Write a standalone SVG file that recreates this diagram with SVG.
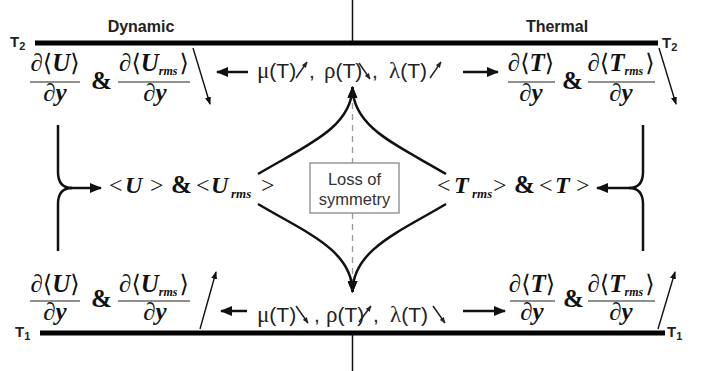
<svg xmlns="http://www.w3.org/2000/svg" width="710" height="371" viewBox="0 0 710 371">
<style>
.wall{stroke:#000;stroke-width:5;fill:none}
.thin{stroke:#111;stroke-width:1.5;fill:none}
.bar{stroke:#222;stroke-width:1.2}
.arr{stroke:#111;stroke-width:2.5;fill:none}
.sl{stroke:#111;stroke-width:1.4;fill:none}
.mini{stroke:#222;stroke-width:1.5;fill:none}
.hd{font-family:"Liberation Sans",Arial,sans-serif;font-weight:bold;font-size:16px;fill:#222}
.tl{font-family:"Liberation Sans",Arial,sans-serif;font-weight:bold;font-size:15px;fill:#222}
.tls{font-size:11px}
.f{font-family:"Liberation Serif","Times New Roman",serif;font-weight:bold;font-style:italic;font-size:25px;fill:#111}
.ab{font-family:"DejaVu Serif","DejaVu Sans",serif;font-weight:normal;font-style:normal;font-size:24px}
.sub{font-size:12px}
.amp{font-family:"Liberation Serif",serif;font-weight:bold;font-size:25px;fill:#111}
.p{font-family:"Liberation Sans",Arial,sans-serif;font-size:21px;fill:#222}
.g{font-family:"Liberation Serif",serif;font-size:23px}
.m{font-family:"Liberation Serif",serif;font-size:24px;fill:#111}
.mb{font-weight:bold;font-style:italic}
.rs{font-family:"Liberation Serif",serif;font-weight:bold;font-style:italic;font-size:13px;fill:#111}
.box{fill:#fff;stroke:#888;stroke-width:1.3}
.bt{font-family:"Liberation Sans",Arial,sans-serif;font-size:16.5px;fill:#333;text-anchor:middle}
</style>
<defs>
<marker id="ah" markerUnits="userSpaceOnUse" markerWidth="12" markerHeight="10" refX="11" refY="5" orient="auto">
<path d="M0,0 L12,5 L0,10 z" fill="#111"/>
</marker>
<marker id="as" markerUnits="userSpaceOnUse" markerWidth="8" markerHeight="6" refX="7" refY="3" orient="auto">
<path d="M0,0 L8,3 L0,6 z" fill="#111"/>
</marker>
<marker id="am" markerUnits="userSpaceOnUse" markerWidth="6" markerHeight="5" refX="5.5" refY="2.5" orient="auto">
<path d="M0,0 L6,2.5 L0,5 z" fill="#222"/>
</marker>
</defs>

<g id="walls">
<line class="wall" x1="35" y1="43" x2="658" y2="43"/>
<line class="wall" x1="40" y1="333" x2="665" y2="333"/>
<line class="thin" x1="352.5" y1="0" x2="352.5" y2="43"/>
<line class="thin" x1="352.5" y1="333" x2="352.5" y2="371"/>
<text class="tl" x="10" y="47">T<tspan class="tls" dy="3">2</tspan></text>
<text class="tl" x="662" y="48">T<tspan class="tls" dy="3">2</tspan></text>
<text class="tl" x="15" y="337">T<tspan class="tls" dy="3">1</tspan></text>
<text class="tl" x="667" y="337">T<tspan class="tls" dy="3">1</tspan></text>
<text class="hd" x="141" y="32" text-anchor="middle">Dynamic</text>
<text class="hd" x="557" y="32" text-anchor="middle">Thermal</text>
</g>

<g id="top-dynamic-gradients">
<text class="f" x="55" y="71" text-anchor="middle">∂<tspan class="ab">⟨</tspan>U<tspan class="ab">⟩</tspan></text>
<line class="bar" x1="30" y1="82" x2="80" y2="82"/>
<text class="f" x="55" y="101" text-anchor="middle">∂y</text>
<text class="amp" x="91" y="89">&amp;</text>
<text class="f" x="154" y="71" text-anchor="middle">∂<tspan class="ab">⟨</tspan>U<tspan class="sub" dy="4">rms</tspan><tspan class="ab" dy="-4" dx="2">⟩</tspan></text>
<line class="bar" x1="118" y1="82" x2="190" y2="82"/>
<text class="f" x="155" y="101" text-anchor="middle">∂y</text>
</g>

<g id="top-thermal-gradients">
<text class="f" x="531" y="71" text-anchor="middle">∂<tspan class="ab">⟨</tspan>T<tspan class="ab">⟩</tspan></text>
<line class="bar" x1="508" y1="82" x2="555" y2="82"/>
<text class="f" x="531" y="101" text-anchor="middle">∂y</text>
<text class="amp" x="562" y="89">&amp;</text>
<text class="f" x="621" y="71" text-anchor="middle">∂<tspan class="ab">⟨</tspan>T<tspan class="sub" dy="4">rms</tspan><tspan class="ab" dy="-4" dx="2">⟩</tspan></text>
<line class="bar" x1="588" y1="82" x2="655" y2="82"/>
<text class="f" x="621" y="101" text-anchor="middle">∂y</text>
</g>

<g id="top-properties">
<text class="p" x="257" y="78"><tspan class="g">μ</tspan>(T)</text>
<text class="p" x="309" y="78">,</text>
<text class="p" x="324" y="78"><tspan class="g">ρ</tspan>(T)</text>
<text class="p" x="372" y="78">,</text>
<text class="p" x="389" y="78"><tspan class="g">λ</tspan>(T)</text>
</g>

<g id="bottom-dynamic-gradients">
<text class="f" x="55" y="292" text-anchor="middle">∂<tspan class="ab">⟨</tspan>U<tspan class="ab">⟩</tspan></text>
<line class="bar" x1="30" y1="301" x2="80" y2="301"/>
<text class="f" x="55" y="320" text-anchor="middle">∂y</text>
<text class="amp" x="91" y="307">&amp;</text>
<text class="f" x="154" y="292" text-anchor="middle">∂<tspan class="ab">⟨</tspan>U<tspan class="sub" dy="4">rms</tspan><tspan class="ab" dy="-4" dx="2">⟩</tspan></text>
<line class="bar" x1="118" y1="301" x2="190" y2="301"/>
<text class="f" x="155" y="320" text-anchor="middle">∂y</text>
</g>

<g id="bottom-thermal-gradients">
<text class="f" x="532" y="292" text-anchor="middle">∂<tspan class="ab">⟨</tspan>T<tspan class="ab">⟩</tspan></text>
<line class="bar" x1="510" y1="301" x2="555" y2="301"/>
<text class="f" x="532" y="320" text-anchor="middle">∂y</text>
<text class="amp" x="563" y="307">&amp;</text>
<text class="f" x="621" y="292" text-anchor="middle">∂<tspan class="ab">⟨</tspan>T<tspan class="sub" dy="4">rms</tspan><tspan class="ab" dy="-4" dx="2">⟩</tspan></text>
<line class="bar" x1="588" y1="301" x2="655" y2="301"/>
<text class="f" x="621" y="320" text-anchor="middle">∂y</text>
</g>

<g id="bottom-properties">
<text class="p" x="257" y="322"><tspan class="g">μ</tspan>(T)</text>
<text class="p" x="314" y="322">,</text>
<text class="p" x="326" y="322"><tspan class="g">ρ</tspan>(T)</text>
<text class="p" x="373" y="322">,</text>
<text class="p" x="390" y="322"><tspan class="g">λ</tspan>(T)</text>
</g>

<g id="mean-velocity">
<text class="m" x="109" y="193">&lt;</text>
<text class="m mb" x="125" y="193">U</text>
<text class="m" x="150" y="193">&gt;</text>
<text class="amp" x="171" y="193">&amp;</text>
<text class="m" x="196" y="193">&lt;</text>
<text class="m mb" x="211" y="193">U</text>
<text class="rs" x="231" y="198">rms</text>
<text class="m" x="261" y="193">&gt;</text>
</g>

<g id="mean-temperature">
<text class="m" x="437" y="193">&lt;</text>
<text class="m mb" x="454" y="193">T</text>
<text class="rs" x="472" y="198">rms</text>
<text class="m" x="493" y="193">&gt;</text>
<text class="amp" x="514" y="193">&amp;</text>
<text class="m" x="539" y="193">&lt;</text>
<text class="m mb" x="555" y="193">T</text>
<text class="m" x="576" y="193">&gt;</text>
</g>

<g id="connectors">
<line x1="352.5" y1="92" x2="352.5" y2="288" stroke="#999" stroke-width="1.3" stroke-dasharray="6,5"/>
<line class="arr" x1="248" y1="72" x2="217" y2="72" marker-end="url(#ah)"/>
<line class="arr" x1="463" y1="72" x2="498" y2="72" marker-end="url(#ah)"/>
<line class="arr" x1="247" y1="311" x2="221" y2="311" marker-end="url(#ah)"/>
<line class="arr" x1="463" y1="311" x2="505" y2="311" marker-end="url(#ah)"/>
<line class="sl" x1="193" y1="48" x2="210" y2="104" marker-end="url(#as)"/>
<line class="sl" x1="659" y1="48" x2="676" y2="104" marker-end="url(#as)"/>
<line class="sl" x1="200" y1="329" x2="216" y2="272" marker-end="url(#as)"/>
<line class="sl" x1="658" y1="329" x2="675" y2="272" marker-end="url(#as)"/>
<line class="mini" x1="296" y1="78" x2="307" y2="62" marker-end="url(#am)"/>
<line class="mini" x1="359" y1="63" x2="370" y2="79" marker-end="url(#am)"/>
<line class="mini" x1="430" y1="78" x2="441" y2="62" marker-end="url(#am)"/>
<line class="mini" x1="296" y1="306" x2="308" y2="323" marker-end="url(#am)"/>
<line class="mini" x1="359" y1="322" x2="371" y2="306" marker-end="url(#am)"/>
<line class="mini" x1="433" y1="306" x2="445" y2="323" marker-end="url(#am)"/>
<path class="arr" d="M258,174 C305,146 352,128 352.5,87" marker-end="url(#ah)"/>
<path class="arr" d="M446,174 C399,146 352.5,128 352.5,87" marker-end="url(#ah)"/>
<path class="arr" d="M258,204 C305,232 352.5,250 352.5,292" marker-end="url(#ah)"/>
<path class="arr" d="M446,204 C399,232 352.5,250 352.5,292" marker-end="url(#ah)"/>
<path class="arr" d="M58,125 L58,172 Q58,188 72,188 M58,251 L58,204 Q58,188 72,188"/>
<line class="arr" x1="70" y1="188" x2="101" y2="188" marker-end="url(#ah)"/>
<path class="arr" d="M643,125 L643,172 Q643,188 629,188 M643,251 L643,204 Q643,188 629,188"/>
<line class="arr" x1="631" y1="188" x2="597" y2="188" marker-end="url(#ah)"/>
</g>

<g id="loss-of-symmetry">
<rect class="box" x="310" y="163" width="89" height="50"/>
<text class="bt" x="354.5" y="185">Loss of</text>
<text class="bt" x="354.5" y="205">symmetry</text>
</g>
</svg>
